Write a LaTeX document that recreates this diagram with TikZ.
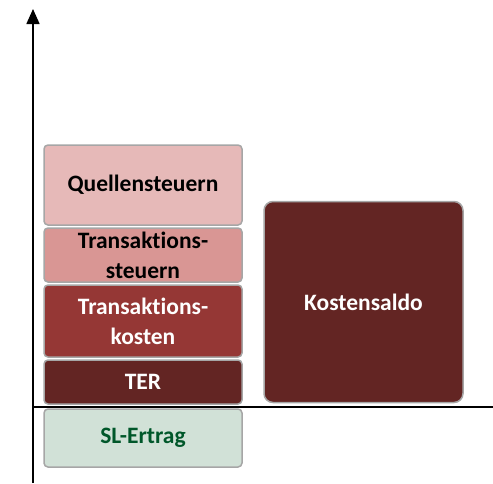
\documentclass[tikz,border=0pt]{standalone}
\usepackage{fontspec}
\setmainfont[Ligatures={NoRequired,NoCommon,NoContextual}]{Carlito}
\usetikzlibrary{arrows.meta}
\definecolor{qcol}{HTML}{E6B9B8}
\definecolor{tscol}{HTML}{D99694}
\definecolor{tkcol}{HTML}{953735}
\definecolor{tercol}{HTML}{632523}
\definecolor{slcol}{HTML}{D1E1D7}
\definecolor{sltext}{HTML}{00572A}
\definecolor{bordcol}{HTML}{A6A6A6}
\tikzset{
  bar/.style={draw=bordcol, line width=1.5pt, rounded corners=4pt, font=\bfseries\fontsize{23.5}{30}\selectfont, align=center, inner sep=0pt},
  axisline/.style={line width=1.6pt, black}
}
\begin{document}
\begin{tikzpicture}[x=1pt,y=-1pt]
\useasboundingbox (0,0) rectangle (493,483);
% boxes
\node[bar, fill=qcol, text=black, minimum width=198pt, minimum height=80pt] (q) at (143,185) {Quellensteuern};
\node[bar, fill=tscol, text=black, minimum width=198pt, minimum height=54pt] (ts) at (143,255) {Transaktions-\\steuern};
\node[bar, fill=tkcol, text=white, minimum width=198pt, minimum height=72pt] (tk) at (143,321) {Transaktions-\\kosten};
\node[bar, fill=tercol, text=white, minimum width=198pt, minimum height=44pt] (ter) at (143,382) {TER};
\node[bar, fill=slcol, text=sltext, minimum width=198pt, minimum height=58pt] (sl) at (143,438) {SL-Ertrag};
\node[bar, rounded corners=9pt, fill=tercol, text=white, minimum width=199pt, minimum height=201pt] (ks) at (363.5,302) {Kostensaldo};
% axes
\coordinate (ybot) at (33,483);
\coordinate (ytop) at (33,9);
\coordinate (xl) at (33,407);
\coordinate (xr) at (493,407);
\draw[axisline] (xl) -- (xr);
\draw[axisline, -{Triangle[width=13pt,length=15pt]}] (ybot) -- (ytop);
\end{tikzpicture}
\end{document}
